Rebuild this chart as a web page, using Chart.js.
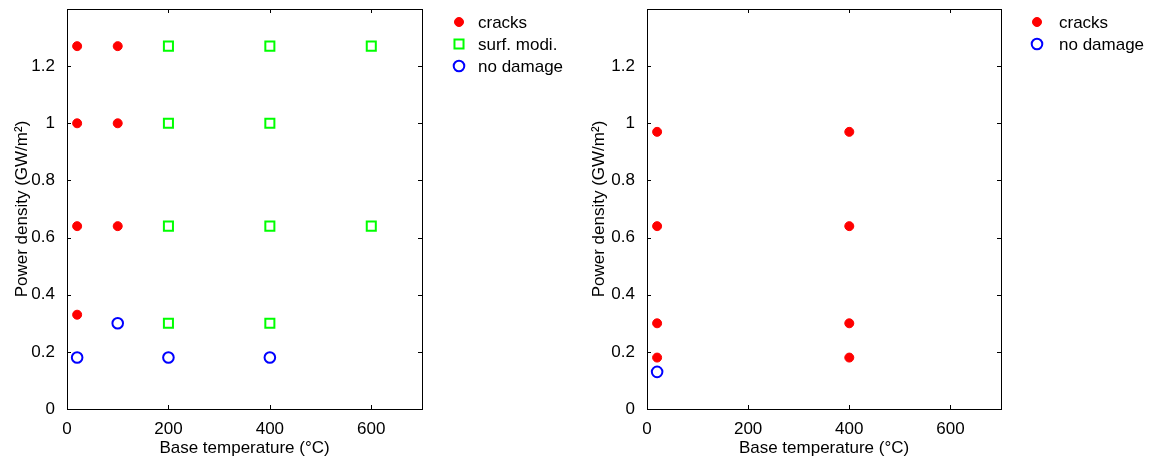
<!DOCTYPE html>
<html>
<head>
<meta charset="utf-8">
<script src="https://cdn.jsdelivr.net/npm/chart.js@4.4.1/dist/chart.umd.min.js"></script>
<style>
  body { margin: 0; background: #fff; }
  .wrap { position: absolute; top: 0; width: 577px; height: 466px; }
</style>
</head>
<body>
<div class="wrap" style="left:0"><canvas id="left" width="577" height="466"></canvas></div>
<div class="wrap" style="left:577px"><canvas id="right" width="577" height="466"></canvas></div>
<script>
// tick labels
var xTicks = [0, 200, 400, 600];
var yTicks = [0, 0.2, 0.4, 0.6, 0.8, 1, 1.2];

// left panel
var leftCracksX = [20, 20, 20, 20, 100, 100, 100];
var leftCracksY = [1.27, 1.0, 0.64, 0.33, 1.27, 1.0, 0.64];
var leftSurfX = [200, 200, 200, 200, 400, 400, 400, 400, 600, 600];
var leftSurfY = [1.27, 1.0, 0.64, 0.30, 1.27, 1.0, 0.64, 0.30, 1.27, 0.64];
var leftNoDmgX = [20, 100, 200, 400];
var leftNoDmgY = [0.18, 0.30, 0.18, 0.18];

// right panel
var rightCracksX = [20, 20, 20, 20, 400, 400, 400, 400];
var rightCracksY = [0.97, 0.64, 0.30, 0.18, 0.97, 0.64, 0.30, 0.18];
var rightNoDmgX = [20];
var rightNoDmgY = [0.13];

var FONT = "'Liberation Sans', Arial, sans-serif";
Chart.defaults.font.family = FONT;
Chart.defaults.color = '#000';

function pts(xs, ys) {
	var out = [];
	for (var i in xs) out.push({x: xs[i], y: ys[i]});
	return out;
}

var cracksStyle = { label: 'cracks', pointStyle: 'circle', pointRadius: 4.5, borderWidth: 1,
	borderColor: '#ff0000', backgroundColor: '#ff0000' };
var surfStyle = { label: 'surf. modi.', pointStyle: 'rect', pointRadius: 6.4, borderWidth: 2,
	borderColor: '#00ff00', backgroundColor: 'rgba(0,0,0,0)' };
var noDmgStyle = { label: 'no damage', pointStyle: 'circle', pointRadius: 5.3, borderWidth: 2,
	borderColor: '#0000ff', backgroundColor: 'rgba(0,0,0,0)' };

function ds(style, xs, ys) {
	return Object.assign({}, style, { data: pts(xs, ys), pointHoverRadius: style.pointRadius, showLine: false });
}

// inward ticks on all four sides, box frame, and the legend
var framePlugin = {
	id: 'frame',
	afterDraw: function(chart, args, opts) {
		var ctx = chart.ctx, a = chart.chartArea;
		var sx = chart.scales.x, sy = chart.scales.y;
		ctx.save();
		ctx.strokeStyle = '#000';
		ctx.lineWidth = 1;
		ctx.strokeRect(Math.round(a.left) + 0.5, Math.round(a.top) + 0.5,
			Math.round(a.right - a.left), Math.round(a.bottom - a.top));
		ctx.beginPath();
		xTicks.forEach(function(v) {
			var px = Math.round(sx.getPixelForValue(v)) + 0.5;
			ctx.moveTo(px, a.bottom); ctx.lineTo(px, a.bottom - 4);
			ctx.moveTo(px, a.top); ctx.lineTo(px, a.top + 4);
		});
		yTicks.forEach(function(v) {
			var py = Math.round(sy.getPixelForValue(v)) + 0.5;
			ctx.moveTo(a.left, py); ctx.lineTo(a.left + 4, py);
			ctx.moveTo(a.right, py); ctx.lineTo(a.right - 4, py);
		});
		ctx.stroke();

		// legend
		ctx.font = '17px ' + FONT;
		ctx.textBaseline = 'middle';
		chart.data.datasets.forEach(function(d, i) {
			var y = opts.top + i * 22;
			ctx.fillStyle = d.backgroundColor;
			ctx.strokeStyle = d.borderColor;
			ctx.lineWidth = d.borderWidth;
			ctx.beginPath();
			if (d.pointStyle === 'rect') {
				var s = d.pointRadius * Math.SQRT1_2;
				ctx.rect(opts.markerX - s, y - s, 2 * s, 2 * s);
			} else {
				ctx.arc(opts.markerX, y, d.pointRadius, 0, Math.PI * 2);
			}
			ctx.fill();
			ctx.stroke();
			ctx.fillStyle = '#000';
			ctx.fillText(d.label, opts.textX, y + 1);
		});
		ctx.restore();
	}
};

function makeChart(id, datasets, yWidth, padRight, legend) {
	return new Chart(document.getElementById(id), {
		type: 'scatter',
		data: { datasets: datasets },
		plugins: [framePlugin],
		options: {
			responsive: false,
			animation: false,
			layout: { padding: { left: 0, right: padRight, top: 9, bottom: 0 } },
			plugins: {
				legend: { display: false },
				tooltip: { enabled: false },
				frame: legend
			},
			scales: {
				x: {
					type: 'linear', min: 0, max: 700,
					afterBuildTicks: function(s) { s.ticks = xTicks.map(function(v) { return {value: v}; }); },
					afterFit: function(s) { s.height = 57; s.paddingLeft = 0; s.paddingRight = 0; },
					grid: { display: false },
					border: { display: false },
					ticks: { font: { size: 17 }, padding: 2, maxRotation: 0,
						callback: function(v) { return String(v); } },
					title: { display: true, text: 'Base temperature (°C)', font: { size: 17 }, padding: { top: 0, bottom: 7 } }
				},
				y: {
					type: 'linear', min: 0, max: 1.4,
					afterBuildTicks: function(s) { s.ticks = yTicks.map(function(v) { return {value: v}; }); },
					afterFit: function(s) { s.width = yWidth; s.paddingTop = 0; s.paddingBottom = 0; },
					grid: { display: false },
					border: { display: false },
					ticks: { font: { size: 17 }, padding: 4,
						callback: function(v) { return String(Math.round(v * 10) / 10); } },
					title: { display: true, text: 'Power density (GW/m²)', font: { size: 17 }, padding: { top: 12, bottom: 0 } }
				}
			}
		}
	});
}

makeChart('left', [
	ds(cracksStyle, leftCracksX, leftCracksY),
	ds(surfStyle, leftSurfX, leftSurfY),
	ds(noDmgStyle, leftNoDmgX, leftNoDmgY)
], 67, 155, { markerX: 459, textX: 478, top: 22 });

makeChart('right', [
	ds(cracksStyle, rightCracksX, rightCracksY),
	ds(noDmgStyle, rightNoDmgX, rightNoDmgY)
], 70, 153, { markerX: 460, textX: 482, top: 22 });
</script>
</body>
</html>
